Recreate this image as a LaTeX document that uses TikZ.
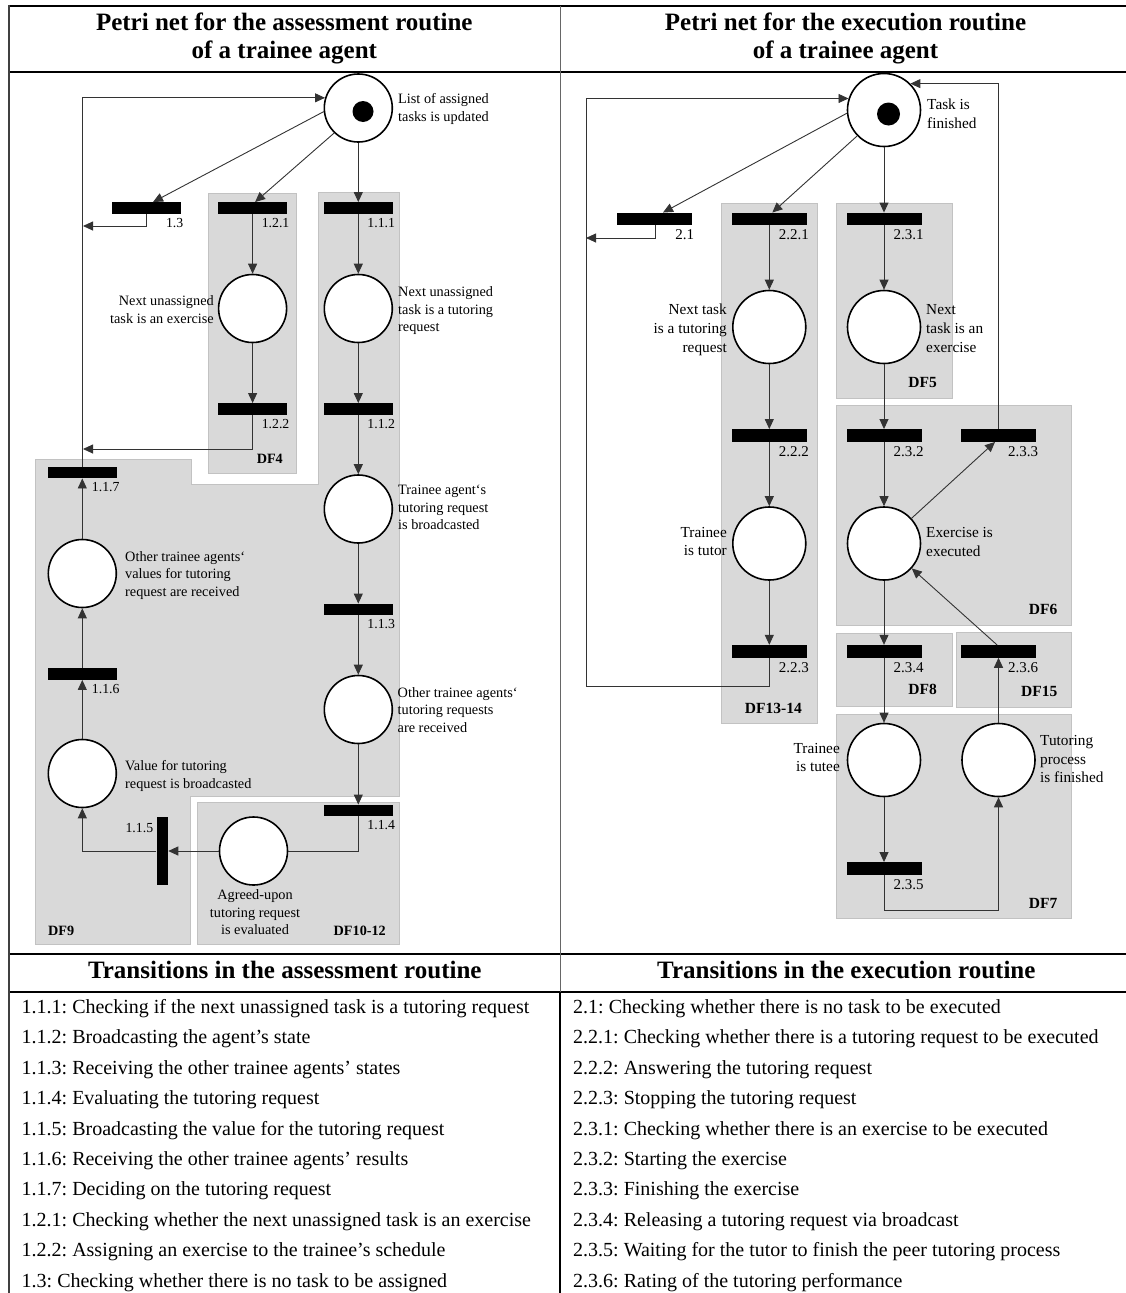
\documentclass[tikz,border=0pt]{standalone}
\usepackage{fontspec}
\setmainfont{Liberation Serif}
\frenchspacing
\usetikzlibrary{arrows.meta,calc}
\definecolor{dfgray}{HTML}{D9D9D9}
\definecolor{dfedge}{HTML}{C2C2C2}
\begin{document}
\begin{tikzpicture}[x=1pt,y=-1pt,
  region/.style={fill=dfgray, draw=dfedge, line width=0.8pt},
  rule/.style={line width=1.8pt, black},
  thinrule/.style={line width=1pt, black!60},
  place/.style={circle, draw=black, line width=1.6pt, fill=white, inner sep=0, minimum size=68pt},
  placeR/.style={place, minimum size=73pt},
  token/.style={circle, fill=black, inner sep=0, minimum size=21pt},
  trans/.style={rectangle, fill=black, inner sep=0, minimum width=69.5pt, minimum height=11.5pt},
  transR/.style={trans, minimum width=75pt, minimum height=12.5pt},
  wire/.style={line width=0.9pt, draw=black!80},
  arc/.style={wire, -{Triangle[length=10pt,width=9pt]}},
  lab/.style={font=\fontsize{14.3}{17.5}\selectfont, inner sep=0},
  labR/.style={font=\fontsize{15.3}{18.6}\selectfont, inner sep=0},
  tlab/.style={font=\fontsize{13.8}{16}\selectfont, inner sep=0, anchor=base east},
  tlabR/.style={font=\fontsize{15}{17}\selectfont, inner sep=0, anchor=base east},
  dflab/.style={font=\fontsize{14.2}{16}\selectfont\bfseries, inner sep=0, anchor=base east},
  dflabR/.style={font=\fontsize{15.5}{17}\selectfont\bfseries, inner sep=0, anchor=base east},
  head/.style={font=\fontsize{25}{27.7}\selectfont\bfseries, inner sep=0, align=center},
  rows/.style={font=\fontsize{20}{30.4}\selectfont, inner sep=0, align=left, anchor=north west},
]
\useasboundingbox (0,0) rectangle (1126,1293);

% ---------- frame of the table ----------
\draw[rule] (8.6,5.7) -- (1126,5.7);
\draw[rule] (8.6,71.7) -- (1126,71.7);
\draw[rule] (8.6,954) -- (1126,954);
\draw[rule] (8.6,991.7) -- (1126,991.7);
\draw[line width=1.8pt, black!75] (8.6,4.8) -- (8.6,1293);
\draw[thinrule] (560,5.7) -- (560,991.7);
\draw[rule] (560,991.7) -- (560,1293);

% ---------- headings ----------
\node[head, anchor=north] (hL) at (284.3,11.3) {\strut Petri net for the assessment routine\\of a trainee agent};
\node[head, anchor=north] (hR) at (845.5,11.3) {\strut Petri net for the execution routine\\of a trainee agent};
\node[head, anchor=base] (tL) at (284.8,978) {Transitions in the assessment routine};
\node[head, anchor=base] (tR) at (846.3,978) {Transitions in the execution routine};

% ---------- shaded regions, assessment routine ----------
\draw[region] (208,193) rectangle (296.5,473);
\draw[region] (318,192) -- (399,192) -- (399,796) -- (190,796) -- (190,944) -- (35,944)
  -- (35,459) -- (191,459) -- (191,484) -- (318,484) -- cycle;
\draw[region] (197,802) rectangle (399,944);

% ---------- shaded regions, execution routine ----------
\draw[region] (721,203) rectangle (817,723);
\draw[region] (836,203) rectangle (952,398);
\draw[region] (836,405.7) rectangle (1071.5,625.7);
\draw[region] (836,633) rectangle (952,706);
\draw[region] (956,632) rectangle (1071.5,707.7);
\draw[region] (836,714) rectangle (1071.5,918);

% ---------- assessment routine: places and transitions ----------
\node[place] (P0) at (358.3,108) {};
\node[token] (tok0) at (363,111.5) {};
\node[place] (P12) at (252.6,308.5) {};
\node[place] (P11) at (358.3,308.5) {};
\node[place] (Pbc) at (358.3,509) {};
\node[place] (Prc) at (358.3,709.5) {};
\node[place] (Pagr) at (253.5,851) {};
\node[place] (Pvals) at (82.3,573.5) {};
\node[place] (Pval) at (82.3,773.5) {};

\node[trans] (T13) at (146.5,208) {};
\node[trans] (T121) at (252.6,208) {};
\node[trans] (T111) at (358.3,208) {};
\node[trans] (T122) at (252.6,409) {};
\node[trans] (T112) at (358.3,409) {};
\node[trans] (T113) at (358.3,609.5) {};
\node[trans] (T114) at (358.3,810.5) {};
\node[trans] (T117) at (82.3,472.5) {};
\node[trans] (T116) at (82.3,674) {};
\node[trans, minimum width=11.5pt, minimum height=68pt] (T115) at (162.3,851) {};

\coordinate (j13) at (83,226);
\coordinate (j122) at (83,449);

% arcs
\draw[arc] (P0.186) -- ($(T13.north)+(6.5,0)$);
\draw[arc] (P0.226) -- ($(T121.north)+(2.5,0)$);
\draw[arc] (P0) -- (T111);
\draw[arc] (T13.south) |- (j13);
\draw[arc] (T121) -- (P12);
\draw[arc] (P12) -- (T122);
\draw[arc] (T122.south) |- (j122);
\draw[arc] (T111) -- (P11);
\draw[arc] (P11) -- (T112);
\draw[arc] (T112) -- (Pbc);
\draw[arc] (Pbc) -- (T113);
\draw[arc] (T113) -- (Prc);
\draw[arc] (Prc) -- (T114);
\draw[wire] (T114.south) |- (Pagr.east);
\draw[arc] (Pagr) -- (T115);
\draw[arc] (T115.west) -| (Pval.south);
\draw[arc] (Pval) -- (T116);
\draw[arc] (T116) -- (Pvals);
\draw[arc] (Pvals) -- (T117);
\draw[arc] (T117.north) |- (P0.163);

% labels
\node[lab, anchor=north west, align=left] (lP0) at (398,91.3) {\strut List of assigned\\tasks is updated};
\node[lab, anchor=north east, align=right] (lP12) at (214,293.3) {\strut Next unassigned\\task is an exercise};
\node[lab, anchor=north west, align=left] (lP11) at (398,284.5) {\strut Next unassigned\\task is a tutoring\\request};
\node[lab, anchor=north west, align=left] (lPbc) at (398,482.3) {\strut Trainee agent‘s\\tutoring request\\is broadcasted};
\node[lab, anchor=north west, align=left] (lPvals) at (125,548.8) {\strut Other trainee agents‘\\values for tutoring\\request are received};
\node[lab, anchor=north west, align=left] (lPrc) at (397.5,684.8) {\strut Other trainee agents‘\\tutoring requests\\are received};
\node[lab, anchor=north west, align=left] (lPval) at (125,758.3) {\strut Value for tutoring\\request is broadcasted};
\node[lab, anchor=north, align=center] (lPagr) at (255,887.3) {\strut Agreed-upon\\tutoring request\\is evaluated};

\node[tlab] (l13) at ($(T13.south east)+(2,13.5)$) {1.3};
\node[tlab] (l121) at ($(T121.south east)+(2,13.5)$) {1.2.1};
\node[tlab] (l111) at ($(T111.south east)+(2,13.5)$) {1.1.1};
\node[tlab] (l122) at ($(T122.south east)+(2,13.5)$) {1.2.2};
\node[tlab] (l112) at ($(T112.south east)+(2,13.5)$) {1.1.2};
\node[tlab] (l113) at ($(T113.south east)+(2,13.5)$) {1.1.3};
\node[tlab] (l114) at ($(T114.south east)+(2,13.5)$) {1.1.4};
\node[tlab] (l117) at ($(T117.south east)+(2.5,13.5)$) {1.1.7};
\node[tlab] (l116) at ($(T116.south east)+(2.5,13.5)$) {1.1.6};
\node[tlab] (l115) at ($(T115.north west)+(-3,15.5)$) {1.1.5};

\node[dflab] (df4) at (283,463) {DF4};
\node[dflab, anchor=base west] (df9) at (48,935) {DF9};
\node[dflab] (df1012) at (386,935) {DF10-12};

% ---------- execution routine: places and transitions ----------
\node[placeR] (P0r) at (884,110) {};
\node[token, minimum size=23pt] (tokr) at (888.5,114) {};
\node[placeR] (Ptr) at (769.3,327) {};
\node[placeR] (Pex) at (884,327) {};
\node[placeR] (Ptutor) at (769.3,543.5) {};
\node[placeR] (Pexec) at (884,543.5) {};
\node[placeR] (Ptutee) at (884,760) {};
\node[placeR] (Pfin) at (998.5,760) {};

\node[transR] (T21) at (654.5,219) {};
\node[transR] (T221) at (769.3,219) {};
\node[transR] (T231) at (884,219) {};
\node[transR] (T222) at (769.3,435.5) {};
\node[transR] (T232) at (884,435.5) {};
\node[transR] (T233) at (998.5,435.5) {};
\node[transR] (T223) at (769.3,651.3) {};
\node[transR] (T234) at (884,651.3) {};
\node[transR] (T236) at (998.5,651.3) {};
\node[transR] (T235) at (884,868.5) {};

\coordinate (jr21) at (586,238);
\coordinate (rloopB) at (586,686);
\coordinate (b235) at (884,910.7);

% arcs
\draw[arc] (P0r.185) -- ($(T21.north)+(8.5,0)$);
\draw[arc] (P0r.224) -- ($(T221.north)+(3,0)$);
\draw[arc] (P0r) -- (T231);
\draw[arc] ($(T21.south)+(1,0)$) |- (jr21);
\draw[arc] (T221) -- (Ptr);
\draw[arc] (Ptr) -- (T222);
\draw[arc] (T222) -- (Ptutor);
\draw[arc] (Ptutor) -- (T223);
\draw[arc] (T223.south) |- (rloopB) |- (P0r.162);
\draw[arc] (T231) -- (Pex);
\draw[arc] (Pex) -- (T232);
\draw[arc] (T232) -- (Pexec);
\draw[arc] (Pexec) -- ($(T233.south)+(-3.5,0)$);
\draw[arc] (T233.north) |- (P0r.45.4);
\draw[arc] (Pexec) -- (T234);
\draw[arc] (T234) -- (Ptutee);
\draw[arc] (Ptutee) -- (T235);
\draw[arc] (T235.south) -- (b235) -| (Pfin.south);
\draw[arc] (Pfin) -- (T236);
\draw[arc] ($(T236.north)+(-1.5,0)$) -- (Pexec);

% labels
\node[labR, anchor=north west, align=left] (lP0r) at (927,96.7) {\strut Task is\\finished};
\node[labR, anchor=north east, align=right] (lPtr) at (727,301.7) {\strut Next task\\is a tutoring\\request};
\node[labR, anchor=north west, align=left] (lPex) at (926,301.7) {\strut Next\\task is an\\exercise};
\node[labR, anchor=north east, align=right] (lPtutor) at (727,523.9) {\strut Trainee\\is tutor};
\node[labR, anchor=north west, align=left] (lPexec) at (926,524.5) {\strut Exercise is\\executed};
\node[labR, anchor=north east, align=right] (lPtutee) at (840,740) {\strut Trainee\\is tutee};
\node[labR, anchor=north west, align=left] (lPfin) at (1040,732.4) {\strut Tutoring\\process\\is finished};

\node[tlabR] (l21) at ($(T21.south east)+(2,14.5)$) {2.1};
\node[tlabR] (l221) at ($(T221.south east)+(2,14.5)$) {2.2.1};
\node[tlabR] (l231) at ($(T231.south east)+(2,14.5)$) {2.3.1};
\node[tlabR] (l222) at ($(T222.south east)+(2,14.5)$) {2.2.2};
\node[tlabR] (l232) at ($(T232.south east)+(2,14.5)$) {2.3.2};
\node[tlabR] (l233) at ($(T233.south east)+(2,14.5)$) {2.3.3};
\node[tlabR] (l223) at ($(T223.south east)+(2,14.5)$) {2.2.3};
\node[tlabR] (l234) at ($(T234.south east)+(2,14.5)$) {2.3.4};
\node[tlabR] (l236) at ($(T236.south east)+(2,14.5)$) {2.3.6};
\node[tlabR] (l235) at ($(T235.south east)+(2,14.5)$) {2.3.5};

\node[dflabR] (df1314) at (802,713.5) {DF13-14};
\node[dflabR] (df5) at (937,387.5) {DF5};
\node[dflabR] (df6) at (1057.5,614.5) {DF6};
\node[dflabR] (df8) at (937,694.5) {DF8};
\node[dflabR] (df15) at (1057.5,696) {DF15};
\node[dflabR] (df7) at (1057.5,908.5) {DF7};

% ---------- transition lists ----------
\node[rows] (rowsL) at (21.5,992) {\strut 1.1.1: Checking if the next unassigned task is a tutoring request\\
1.1.2: Broadcasting the agent’s state\\
1.1.3: Receiving the other trainee agents’ states\\
1.1.4: Evaluating the tutoring request\\
1.1.5: Broadcasting the value for the tutoring request\\
1.1.6: Receiving the other trainee agents’ results\\
1.1.7: Deciding on the tutoring request\\
1.2.1: Checking whether the next unassigned task is an exercise\\
1.2.2: Assigning an exercise to the trainee’s schedule\\
1.3: Checking whether there is no task to be assigned};
\node[rows] (rowsR) at (573,992) {\strut 2.1: Checking whether there is no task to be executed\\
2.2.1: Checking whether there is a tutoring request to be executed\\
2.2.2: Answering the tutoring request\\
2.2.3: Stopping the tutoring request\\
2.3.1: Checking whether there is an exercise to be executed\\
2.3.2: Starting the exercise\\
2.3.3: Finishing the exercise\\
2.3.4: Releasing a tutoring request via broadcast\\
2.3.5: Waiting for the tutor to finish the peer tutoring process\\
2.3.6: Rating of the tutoring performance};
\end{tikzpicture}
\end{document}
